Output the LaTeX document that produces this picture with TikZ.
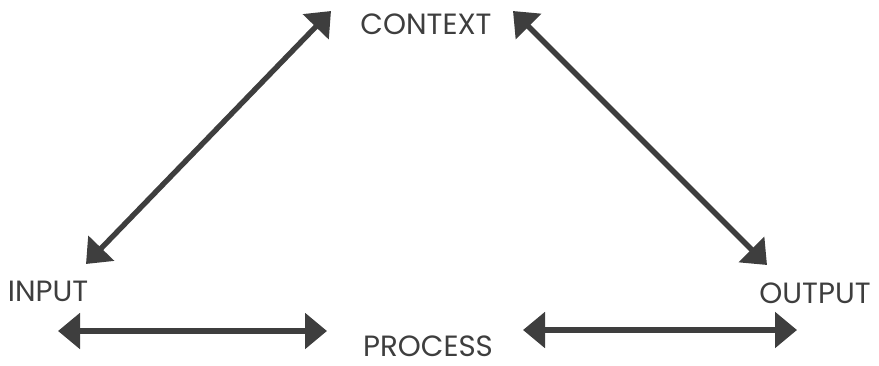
\documentclass[tikz,border=0pt]{standalone}
\usepackage{fontspec}
\setmainfont{Poppins}
\usetikzlibrary{arrows.meta, positioning}
\definecolor{inkgray}{RGB}{62,62,62}

\begin{document}
\begin{tikzpicture}[
        x=0.03cm, y=-0.03cm,
        label/.style={text=inkgray, font=\fontsize{25}{28}\selectfont, inner sep=0pt},
        link/.style={{Triangle[length=0.66cm, width=1.05cm]}-{Triangle[length=0.66cm, width=1.05cm]}, line width=0.16cm, draw=inkgray, fill=inkgray}
    ]
        \useasboundingbox (0,0) rectangle (879,365);

        % Labels
        \node[label] (context) at (426,24) {CONTEXT};
        \node[label] (input) at (48,291) {INPUT};
        \node[label] (output) at (815,293) {OUTPUT};
        \node[label] (process) at (428,346) {PROCESS};

        % Arrow ends
        \coordinate (ctxl) at (331,11);
        \coordinate (inp) at (86,264);
        \coordinate (ctxr) at (513,11);
        \coordinate (outp) at (767,265);
        \coordinate (inr) at (58,331);
        \coordinate (prl) at (327,331);
        \coordinate (prr) at (523,330);
        \coordinate (outl) at (797,330);

        % Arrows
        \draw[link] (inp) -- (ctxl);
        \draw[link] (ctxr) -- (outp);
        \draw[link] (inr) -- (prl);
        \draw[link] (prr) -- (outl);
    \end{tikzpicture}
\end{document}
